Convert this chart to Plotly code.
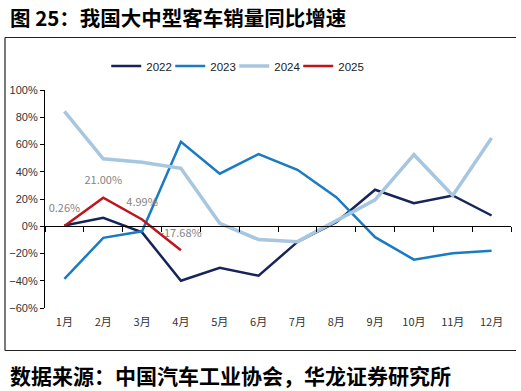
import plotly.graph_objects as go

months = ["1月", "2月", "3月", "4月", "5月", "6月", "7月", "8月", "9月", "10月", "11月", "12月"]
y2022 = [0.5, 6.2, -4.5, -40.0, -30.5, -36.3, -11.5, 3.0, 26.8, 16.9, 22.6, 7.9]
y2023 = [-38.7, -8.5, -3.7, 62.0, 38.6, 53.0, 41.4, 21.3, -8.0, -24.5, -19.8, -17.9]
y2024 = [84.3, 49.5, 47.0, 42.5, 2.2, -9.8, -11.3, 4.0, 19.4, 52.5, 22.6, 64.7]
y2025 = [0.26, 21.00, 4.99, -17.68]
labels2025 = ["0.26%", "21.00%", "4.99%", "-17.68%"]

series = [
    ("2022", y2022, "#16245A", 2.5),
    ("2023", y2023, "#1B7BC2", 2.5),
    ("2024", y2024, "#A7C6E0", 3.5),
]

fig = go.Figure()
for name, ys, color, w in series:
    fig.add_trace(go.Scatter(x=months[:len(ys)], y=ys, name=name, mode="lines",
                             line=dict(color=color, width=w)))
fig.add_trace(go.Scatter(x=months[:len(y2025)], y=y2025, name="2025", mode="lines+markers+text",
                         text=labels2025, textposition="top center",
                         marker=dict(size=16, color="rgba(0,0,0,0)"),
                         textfont=dict(family="Noto Sans CJK SC", size=11, color="#858585"),
                         line=dict(color="#C0141C", width=2.5)))
# invisible spacer entry so the last legend label is not clipped
fig.add_trace(go.Scatter(x=[None], y=[None], name=" ", mode="lines",
                         line=dict(color="rgba(0,0,0,0)", width=0), hoverinfo="skip"))
# helper trace for zero-line axis with boundary ticks
fig.add_trace(go.Scatter(x=[0], y=[None], xaxis="x2", showlegend=False, hoverinfo="skip"))

fig.update_layout(
    width=521, height=391,
    margin=dict(l=45, r=10, t=90, b=83),
    paper_bgcolor="white", plot_bgcolor="white",
    font=dict(family="Liberation Sans, Arial", size=11, color="#222222"),
    showlegend=True,
    legend=dict(orientation="h", x=0.1314, xanchor="left", y=1.11, yanchor="middle",
                font=dict(family="Liberation Sans, Arial", size=11.5, color="#222222"),
                bgcolor="rgba(0,0,0,0)", itemwidth=30, tracegroupgap=0,
                entrywidth=19, entrywidthmode="pixels"),
    xaxis=dict(type="category", range=[-0.5, 11.5], showline=False, ticks="",
               showgrid=False, zeroline=False, ticklabelstandoff=6,
               tickfont=dict(family="Noto Sans CJK SC", size=11, color="#333333")),
    xaxis2=dict(overlaying="x", anchor="free", position=0.375, range=[-0.5, 11.5],
                tickvals=[i - 0.5 for i in range(13)], ticks="outside", ticklen=5,
                tickwidth=1, tickcolor="#000000",
                showline=True, linecolor="#000000", linewidth=1.2,
                showticklabels=False, showgrid=False, zeroline=False),
    yaxis=dict(range=[-60, 100], dtick=20, ticksuffix="%", showline=True, linecolor="#000000",
               linewidth=1.2, ticks="outside", ticklen=4, tickcolor="#000000",
               showgrid=False, zeroline=False, tickfont=dict(size=11, color="#333333")),
)

fig.add_annotation(text="<b>图 25：我国大中型客车销量同比增速</b>", xref="paper", yref="paper",
                   x=-37/466, xanchor="left", y=(308 - 17) / 218, yanchor="middle", showarrow=False,
                   font=dict(family="Noto Sans CJK SC", size=20.5, color="#000000"))
fig.add_annotation(text="<b>数据来源：中国汽车工业协会，华龙证券研究所</b>", xref="paper", yref="paper",
                   x=-37/466, xanchor="left", y=(308 - 375) / 218, yanchor="middle", showarrow=False,
                   font=dict(family="Noto Sans CJK SC", size=21, color="#000000"))

# frame lines (paper coordinates)
def px_x(p):
    return (p - 45) / 466
def px_y(p):
    return (308 - p) / 218
line_style = dict(color="#222222", width=1.2)
fig.add_shape(type="line", xref="paper", yref="paper", x0=px_x(5), x1=px_x(516), y0=px_y(37.5), y1=px_y(37.5), line=line_style)
fig.add_shape(type="line", xref="paper", yref="paper", x0=px_x(5), x1=px_x(516), y0=px_y(350.5), y1=px_y(350.5), line=line_style)
fig.add_shape(type="line", xref="paper", yref="paper", x0=px_x(5), x1=px_x(5), y0=px_y(37.5), y1=px_y(350.5), line=line_style)

fig.write_html("out.html")
